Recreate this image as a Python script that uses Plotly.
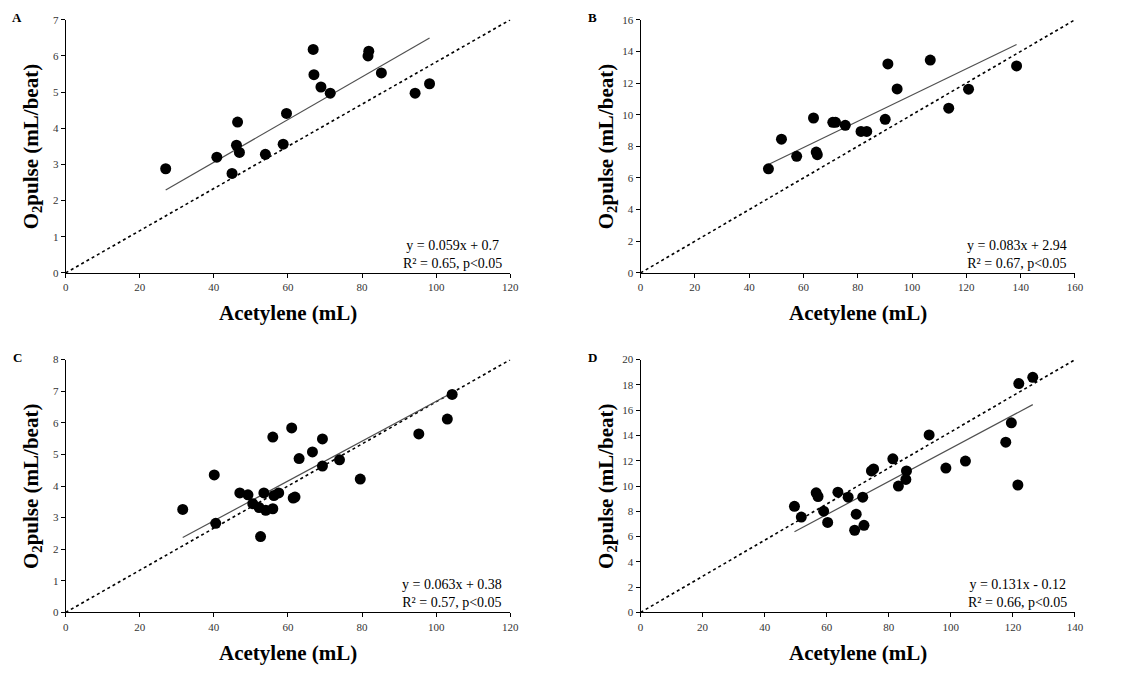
import plotly.graph_objects as go

# ---------------- data ----------------
panel_labels = ["A", "B", "C", "D"]

a_x = [27.0, 40.8, 44.9, 46.4, 46.1, 46.9, 53.9, 58.7, 59.6, 66.8, 67.0, 68.9, 71.4, 81.6, 81.8, 85.2, 94.3, 98.2]
a_y = [2.88, 3.20, 2.75, 4.17, 3.53, 3.33, 3.28, 3.56, 4.41, 6.18, 5.48, 5.14, 4.97, 6.00, 6.13, 5.53, 4.97, 5.23]

b_x = [47.1, 51.9, 57.5, 63.7, 64.7, 65.1, 70.8, 71.8, 75.4, 81.2, 83.3, 90.1, 91.1, 94.5, 106.7, 113.5, 120.8, 138.5]
b_y = [6.58, 8.45, 7.37, 9.79, 7.64, 7.47, 9.52, 9.52, 9.33, 8.94, 8.94, 9.71, 13.21, 11.63, 13.45, 10.41, 11.61, 13.08]

c_x = [31.6, 40.1, 40.5, 47.0, 49.2, 50.5, 52.2, 52.6, 53.5, 54.0, 55.9, 55.9, 56.2, 57.5, 61.0, 61.4, 61.9,
       63.0, 66.6, 69.3, 69.3, 73.9, 79.5, 95.3, 103.0, 104.3]
c_y = [3.26, 4.35, 2.82, 3.78, 3.72, 3.44, 3.32, 2.40, 3.78, 3.23, 5.55, 3.28, 3.70, 3.78, 5.84, 3.62, 3.65,
       4.87, 5.08, 5.49, 4.63, 4.83, 4.22, 5.65, 6.12, 6.90]

d_x = [49.6, 51.8, 56.6, 57.2, 59.0, 60.3, 63.6, 66.9, 69.0, 69.5, 71.6, 72.0, 74.4, 75.1, 81.3, 83.1, 85.5,
       85.7, 93.0, 98.4, 104.7, 117.7, 119.5, 121.6, 121.9, 126.4]
d_y = [8.39, 7.54, 9.46, 9.17, 8.01, 7.12, 9.51, 9.12, 6.50, 7.77, 9.12, 6.89, 11.19, 11.35, 12.15, 10.00, 10.52,
       11.19, 14.04, 11.42, 11.97, 13.47, 15.00, 10.08, 18.11, 18.60]

slopes = [0.059, 0.083, 0.063, 0.131]
intercepts = [0.7, 2.94, 0.38, -0.12]
eq_texts = ["y = 0.059x + 0.7<br>R² = 0.65, p<0.05",
            "y = 0.083x + 2.94<br>R² = 0.67, p<0.05",
            "y = 0.063x + 0.38<br>R² = 0.57, p<0.05",
            "y = 0.131x - 0.12<br>R² = 0.66, p<0.05"]

x_max = [120, 160, 120, 140]
y_max = [7, 16, 8, 20]
x_dtick = [20, 20, 20, 20]
y_dtick = [1, 2, 1, 2]

x_title = "Acetylene (mL)"
y_title = "O<sub>2</sub>pulse (mL/beat)"

xs = [a_x, b_x, c_x, d_x]
ys = [a_y, b_y, c_y, d_y]

# ---------------- layout geometry ----------------
W, H = 1147, 679
# plot areas in pixels: (left, right, top, bottom)
boxes = [(63.3, 512.7, 14, 271.7),
         (644.3, 1083.3, 14, 271.7),
         (63.3, 512.7, 360, 617.3),
         (644.3, 1083.3, 360, 617.3)]

def px(x):
    return x / W

def py(y):
    return 1 - y / H

SERIF = "Liberation Serif, Times New Roman, serif"

fig = go.Figure()
layout = dict(width=W, height=H, autosize=False,
              margin=dict(l=0, r=0, t=0, b=0),
              plot_bgcolor="white", paper_bgcolor="white",
              showlegend=False, font=dict(family=SERIF, color="black"))
annotations = []

for i in range(4):
    n = "" if i == 0 else str(i + 1)
    xa, ya = "x" + n, "y" + n
    l, r, t, b = boxes[i]
    axis_common = dict(showgrid=False, zeroline=False, showline=True, linecolor="black", linewidth=1,
                       ticks="outside", ticklen=4, tickcolor="black", tickwidth=1,
                       tickfont=dict(family=SERIF, size=11, color="#333333"))
    layout["xaxis" + n] = dict(domain=[px(l), px(r)], range=[0, x_max[i]], dtick=x_dtick[i], tick0=0,
                                anchor=ya, **axis_common)
    layout["yaxis" + n] = dict(domain=[py(b), py(t)], range=[0, y_max[i]], dtick=y_dtick[i], tick0=0,
                                anchor=xa, **axis_common)

    # dotted diagonal
    fig.add_trace(go.Scatter(x=[0, x_max[i]], y=[0, y_max[i]], mode="lines",
                             line=dict(color="black", width=1.6, dash="dot"),
                             xaxis=xa, yaxis=ya, hoverinfo="skip"))
    # regression line
    x0, x1 = min(xs[i]), max(xs[i])
    fig.add_trace(go.Scatter(x=[x0, x1], y=[slopes[i] * x0 + intercepts[i], slopes[i] * x1 + intercepts[i]],
                             mode="lines", line=dict(color="#505050", width=1.2),
                             xaxis=xa, yaxis=ya, hoverinfo="skip"))
    # points
    fig.add_trace(go.Scatter(x=xs[i], y=ys[i], mode="markers",
                             marker=dict(color="black", size=11),
                             xaxis=xa, yaxis=ya))

    # equation text
    annotations.append(dict(text=eq_texts[i], xref="paper", yref="paper",
                            x=px(r - 6), y=py(b - 19), xanchor="right", yanchor="middle",
                            align="center", showarrow=False,
                            font=dict(family=SERIF, size=14, color="black")))
    # x title
    annotations.append(dict(text="<b>" + x_title + "</b>", xref="paper", yref="paper",
                            x=px((l + r) / 2), y=py(b + 41), xanchor="center", yanchor="middle",
                            showarrow=False, font=dict(family=SERIF, size=21, color="black")))
    # y title
    annotations.append(dict(text="<b>" + y_title + "</b>", xref="paper", yref="paper",
                            x=px(l - 34), y=py((t + b) / 2), xanchor="center", yanchor="middle",
                            textangle=-90, showarrow=False,
                            font=dict(family=SERIF, size=21, color="black")))
    # panel letter
    annotations.append(dict(text="<b>" + panel_labels[i] + "</b>", xref="paper", yref="paper",
                            x=px(l - 49), y=py(t - 2), xanchor="center", yanchor="middle",
                            showarrow=False, font=dict(family=SERIF, size=13, color="black")))

layout["annotations"] = annotations
fig.update_layout(**layout)
fig.write_html("out.html")
